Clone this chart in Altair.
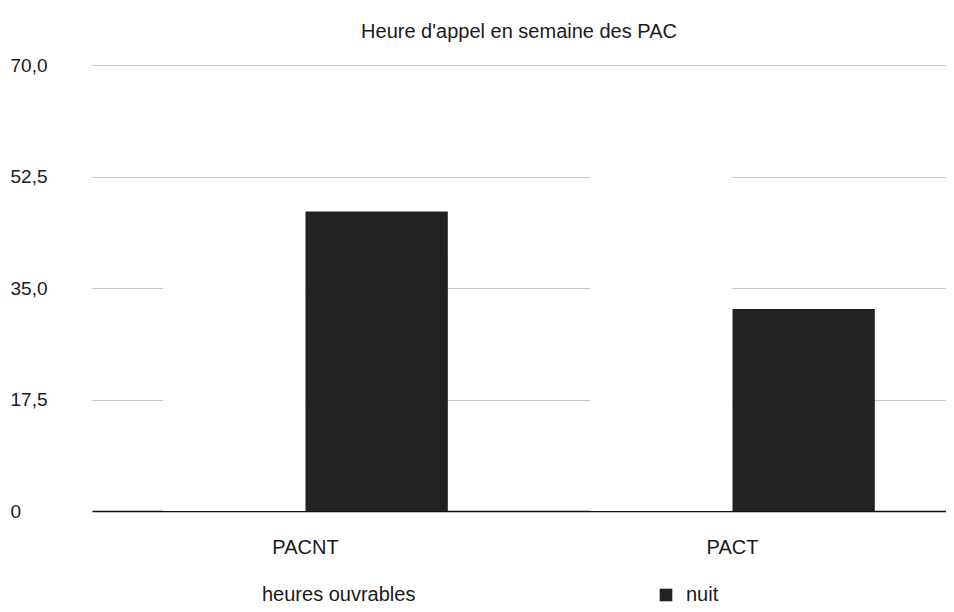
import altair as alt
import pandas as pd

categories = ["PACNT", "PACT"]
series = ["heures ouvrables", "nuit"]
heures_ouvrables = [51.0, 68.3]
nuit = [47.0, 31.7]
y_ticks = [0, 17.5, 35, 52.5, 70]
colors = ["#ffffff", "#222222"]

rows = []
for i, c in enumerate(categories):
    rows.append({"cat": c, "series": series[0], "value": heures_ouvrables[i]})
    rows.append({"cat": c, "series": series[1], "value": nuit[i]})
df = pd.DataFrame(rows)

FONT = "Liberation Sans"

chart = alt.Chart(df).mark_bar().encode(
    x=alt.X("cat:N", sort=categories, title=None,
            scale=alt.Scale(paddingInner=0, paddingOuter=0),
            axis=alt.Axis(labelAngle=0, labelFontSize=20, labelFont=FONT, labelColor="#1a1a1a",
                          ticks=False, tickSize=0, labelPadding=26, domainColor="#111111",
                          domainWidth=1.6, grid=False)),
    xOffset=alt.XOffset("series:N", sort=series,
                        scale=alt.Scale(paddingInner=0, paddingOuter=0.5)),
    y=alt.Y("value:Q", title=None,
            scale=alt.Scale(domain=[0, 70], nice=False),
            axis=alt.Axis(values=y_ticks, labelAlign="left", labelPadding=82, ticks=False, tickSize=0,
                          domain=False, labelFontSize=19, labelFont=FONT, labelColor="#1a1a1a",
                          gridColor="#c8c8c8", gridWidth=1,
                          labelExpr="datum.value == 0 ? '0' : replace(format(datum.value, '.1f'), '.', ',')")),
    color=alt.Color("series:N", sort=series,
                    scale=alt.Scale(domain=series, range=colors),
                    legend=alt.Legend(title=None, orient="none", direction="horizontal", columns=2,
                                      legendX=140, legendY=520, symbolType="square", symbolSize=160,
                                      labelFontSize=20, labelFont=FONT, labelColor="#1a1a1a",
                                      labelOffset=10, columnPadding=240, symbolStrokeWidth=0)),
).properties(
    width=854,
    height=446,
    title=alt.Title("Heure d'appel en semaine des PAC", fontSize=20, font=FONT, fontWeight="normal",
                    color="#1a1a1a", offset=14, anchor="middle"),
    autosize=alt.AutoSizeParams(type="none"),
    padding={"left": 84, "top": 57, "right": 0, "bottom": 100},
).configure_view(stroke=None)

chart.save("out.html", embed_options={"renderer": "svg", "actions": False})
